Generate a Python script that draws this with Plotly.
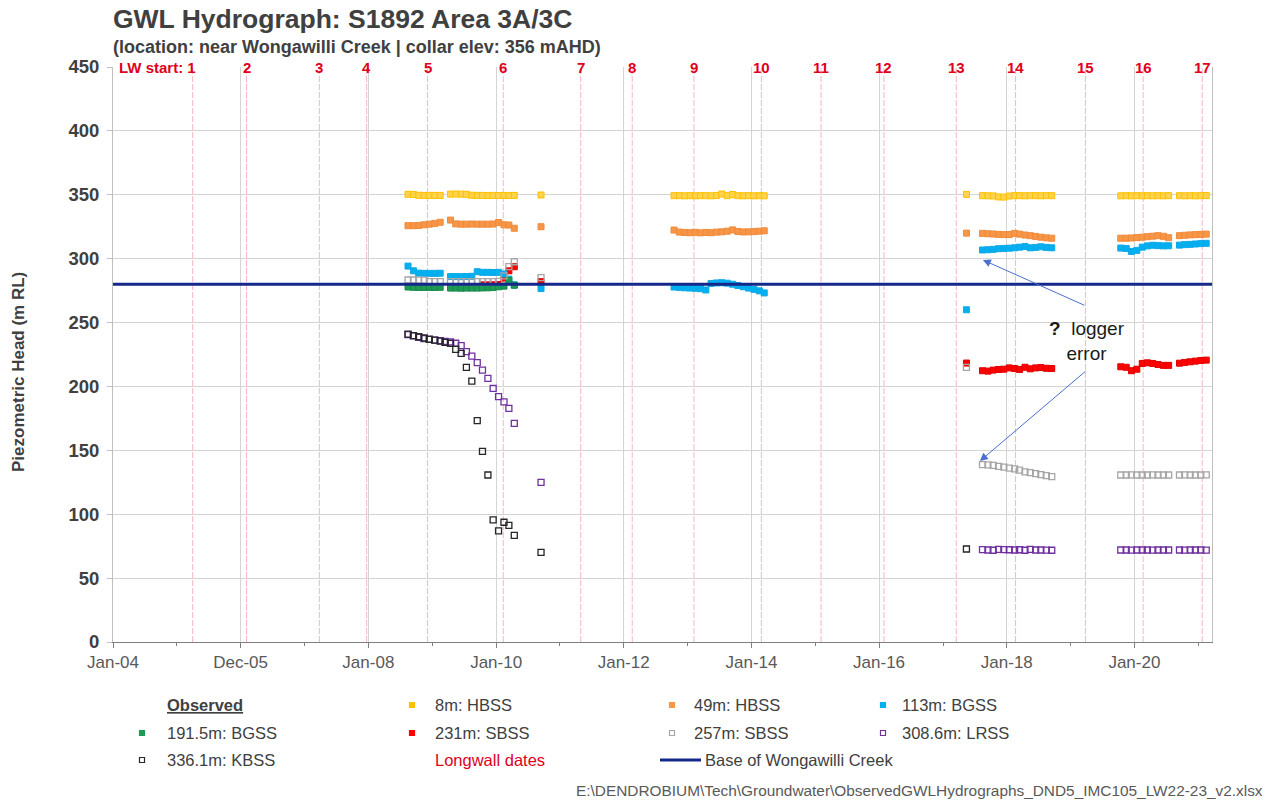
import plotly.graph_objects as go

# ---------------- dates (monthly readings) ----------------
D2008_SHALLOW = ["2008-08-15", "2008-09-15", "2008-10-15", "2008-11-15", "2008-12-15", "2009-01-15", "2009-02-15",
                 "2009-04-15", "2009-05-15", "2009-06-15", "2009-07-15", "2009-08-15", "2009-09-15", "2009-10-15",
                 "2009-11-15", "2009-12-15", "2010-01-15", "2010-02-15", "2010-03-15", "2010-04-15", "2010-09-15"]
D2008_DEEP = ["2008-08-15", "2008-09-15", "2008-10-15", "2008-11-15", "2008-12-15", "2009-01-15", "2009-02-15",
              "2009-03-15", "2009-04-15", "2009-05-15", "2009-06-15", "2009-07-15", "2009-08-15", "2009-09-15",
              "2009-10-15", "2009-11-15", "2009-12-15", "2010-01-15", "2010-02-15", "2010-03-15", "2010-04-15",
              "2010-09-15"]
D2008_GREEN = D2008_SHALLOW[:-1]
D2008_RED = ["2009-10-15", "2009-11-15", "2009-12-15", "2010-01-15", "2010-02-15", "2010-03-15", "2010-04-15",
             "2010-09-15"]
D2013 = ["2012-10-15", "2012-11-15", "2012-12-15", "2013-01-15", "2013-02-15", "2013-03-15", "2013-04-15",
         "2013-05-15", "2013-06-15", "2013-07-15", "2013-08-15", "2013-09-15", "2013-10-15", "2013-11-15",
         "2013-12-15", "2014-01-15", "2014-02-15", "2014-03-15"]
D2017_FIRST = ["2017-05-15"]
D2017 = ["2017-08-15", "2017-09-15", "2017-10-15", "2017-11-15", "2017-12-15", "2018-01-15", "2018-02-15",
         "2018-03-15", "2018-04-15", "2018-05-15", "2018-06-15", "2018-07-15", "2018-08-15", "2018-09-15"]
D2019 = ["2019-10-15", "2019-11-15", "2019-12-15", "2020-01-15", "2020-02-15", "2020-03-15", "2020-04-15",
         "2020-05-15", "2020-06-15", "2020-07-15"]
D2020 = ["2020-09-15", "2020-10-15", "2020-11-15", "2020-12-15", "2021-01-15", "2021-02-15"]

# ---------------- series values (m RL) ----------------
# 8m: HBSS
HBSS8_2008 = [350.4, 350.2, 349.6, 349.5, 349.5, 349.5, 349.5, 350.5, 350.6, 350.5, 350.4, 349.6, 349.5, 349.5,
              349.4, 349.5, 349.4, 349.5, 349.4, 349.5, 349.8]
HBSS8_2013 = [349.3, 349.3, 349.2, 349.3, 349.2, 349.3, 349.3, 349.2, 349.4, 350.6, 349.3, 350.2, 349.3, 349.2,
              349.3, 349.2, 349.3, 349.2]
HBSS8_2017_FIRST = [350.3]
HBSS8_2017 = [349.3, 349.2, 349.1, 348.3, 348.2, 349.0, 349.3, 349.3, 349.2, 349.3, 349.3, 349.2, 349.3, 349.3]
HBSS8_2019 = [349.2, 349.3, 349.2, 349.3, 349.2, 349.3, 349.2, 349.3, 349.2, 349.3]
HBSS8_2020 = [349.3, 349.2, 349.3, 349.2, 349.3, 349.4]

# 49m: HBSS
HBSS49_2008 = [325.8, 325.8, 326.0, 326.5, 327.0, 327.6, 328.5, 330.2, 327.2, 327.0, 327.0, 327.1, 327.0, 327.0,
               327.0, 327.1, 328.3, 326.5, 326.3, 323.8, 325.0]
HBSS49_2013 = [322.4, 320.8, 320.5, 320.3, 320.6, 320.2, 320.5, 320.3, 320.8, 321.0, 321.5, 322.5, 321.3, 320.9,
               321.0, 321.2, 321.5, 321.8]
HBSS49_2017_FIRST = [320.0]
HBSS49_2017 = [319.8, 319.5, 319.3, 319.0, 318.8, 318.9, 319.8, 319.2, 318.5, 318.0, 317.4, 316.8, 316.3, 316.0]
HBSS49_2019 = [316.0, 316.0, 316.2, 316.5, 316.8, 317.2, 317.6, 318.0, 317.5, 316.4]
HBSS49_2020 = [318.0, 318.3, 318.6, 318.8, 319.0, 319.2]

# 113m: BGSS
BGSS113_2008 = [294.2, 290.5, 288.7, 288.5, 288.5, 288.5, 288.6, 286.0, 286.0, 285.9, 286.0, 286.2, 289.8, 289.3,
                289.3, 289.2, 289.3, 288.0, 284.0, 279.5, 276.6]
BGSS113_2013 = [277.8, 277.5, 277.2, 277.0, 276.8, 276.5, 275.5, 280.6, 281.0, 281.2, 280.8, 280.0, 279.0, 278.0,
                277.0, 276.0, 274.8, 273.2]
BGSS113_2017_FIRST = [260.0]
BGSS113_2017 = [306.8, 307.0, 307.3, 307.8, 308.0, 308.2, 308.5, 309.0, 309.5, 308.5, 308.8, 309.3, 308.8, 308.5]
BGSS113_2019 = [308.3, 308.0, 305.6, 306.5, 309.0, 310.0, 310.5, 310.2, 310.0, 310.1]
BGSS113_2020 = [310.6, 311.0, 311.2, 311.5, 311.8, 312.0]

# 191.5m: BGSS
BGSS191_2008 = [277.8, 277.6, 277.5, 277.5, 277.5, 277.5, 277.6, 277.0, 277.0, 276.9, 277.0, 277.0, 277.0, 277.1,
                277.2, 277.5, 278.0, 278.5, 283.0, 279.2]

# 231m: SBSS
SBSS231_2008 = [279.5, 279.5, 279.6, 279.8, 284.8, 290.5, 293.7, 282.0]
SBSS231_2017_FIRST = [218.3]
SBSS231_2017 = [212.3, 212.0, 212.8, 213.3, 213.5, 214.5, 214.0, 213.3, 215.0, 213.8, 214.5, 214.8, 214.2, 214.0]
SBSS231_2019 = [215.4, 215.0, 212.3, 213.5, 218.0, 218.5, 218.0, 217.2, 216.5, 216.5]
SBSS231_2020 = [218.2, 218.8, 219.3, 219.8, 220.3, 220.6]

# 257m: SBSS
SBSS257_2008 = [283.3, 283.3, 283.2, 283.2, 282.0, 282.0, 282.0, 282.0, 282.0, 282.1, 282.0, 282.0, 282.0, 282.1,
                282.0, 282.0, 282.3, 286.5, 293.7, 297.6, 285.1]
SBSS257_2017_FIRST = [215.0]
SBSS257_2017 = [138.8, 138.6, 138.2, 137.5, 136.8, 136.0, 135.5, 134.5, 133.2, 132.5, 131.8, 131.0, 130.2, 129.4]
SBSS257_2019 = [130.7, 130.7, 130.8, 130.7, 130.7, 130.7, 130.8, 130.7, 130.7, 130.7]
SBSS257_2020 = [130.7, 130.8, 130.7, 130.7, 130.7, 130.8]

# 308.6m: LRSS
LRSS_2008 = [240.5, 239.5, 238.5, 237.5, 237.0, 236.3, 235.8, 235.2, 234.8, 233.8, 231.9, 227.2, 223.8, 218.6,
             212.8, 206.3, 198.5, 192.0, 188.0, 182.9, 171.1, 125.0]
LRSS_2017 = [72.3, 72.0, 71.8, 72.5, 72.3, 72.2, 72.0, 72.2, 71.8, 72.5, 72.0, 72.0, 71.9, 71.8]
LRSS_2019 = [72.0, 72.0, 71.9, 72.0, 72.0, 72.0, 71.9, 72.0, 72.0, 72.0]
LRSS_2020 = [72.0, 71.9, 72.0, 72.0, 72.0, 71.9]

# 336.1m: KBSS
KBSS_2008 = [241.0, 239.7, 238.9, 237.9, 236.8, 236.3, 235.5, 234.5, 233.7, 229.0, 225.9, 214.9, 204.2, 173.2,
             149.2, 130.7, 95.5, 86.9, 93.7, 91.3, 83.5, 70.2]
KBSS_2017_FIRST = [72.8]

CREEK_BASE = 280.0

# longwall start dates
LW_DATES = ["2005-04-01", "2006-02-03", "2007-03-27", "2007-12-22", "2008-12-05", "2010-02-11", "2011-04-30",
            "2012-02-19", "2013-02-06", "2014-02-27", "2015-02-03", "2016-01-29", "2017-03-18", "2018-02-20",
            "2019-03-27", "2020-02-20", "2021-01-23"]
LW_LABELS = [str(i) for i in range(1, 18)]

X_TICKVALS = ["2004-01-01", "2005-12-31", "2008-01-01", "2010-01-01", "2012-01-01", "2014-01-01", "2016-01-01",
              "2018-01-01", "2020-01-01"]
X_TICKTEXT = ["Jan-04", "Dec-05", "Jan-08", "Jan-10", "Jan-12", "Jan-14", "Jan-16", "Jan-18", "Jan-20"]
X_MINOR = ["2005-01-01", "2007-01-01", "2009-01-01", "2011-01-01", "2013-01-01", "2015-01-01", "2017-01-01",
           "2019-01-01", "2021-01-01"]
X_RANGE = ["2004-01-01", "2021-03-20"]
Y_TICKS = [0, 50, 100, 150, 200, 250, 300, 350, 400, 450]

# ---------------- figure ----------------
W, H = 1271, 803
ML, MT = 113, 67
MR = W - 1212
MB = H - 642
PW, PH = W - ML - MR, H - MT - MB


def px(x):
    """page pixel x -> paper fraction"""
    return (x - ML) / PW


def py(y):
    """page pixel y -> paper fraction"""
    return (H - MB - y) / PH


FONT = "Liberation Sans, Arial, sans-serif"
TXT = "#404040"

fig = go.Figure()


def add(name, x, y, symbol, fill, line, size=6, lw=1.0):
    fig.add_trace(go.Scatter(
        x=x, y=y, mode="markers", name=name, showlegend=False,
        marker=dict(symbol=symbol, size=size, color=fill, line=dict(color=line, width=lw)),
        hoverinfo="x+y+name"))


add("8m: HBSS", D2008_SHALLOW + D2013 + D2017_FIRST + D2017 + D2019 + D2020,
    HBSS8_2008 + HBSS8_2013 + HBSS8_2017_FIRST + HBSS8_2017 + HBSS8_2019 + HBSS8_2020,
    "square", "#FFD34D", "#FFC000")
add("49m: HBSS", D2008_SHALLOW + D2013 + D2017_FIRST + D2017 + D2019 + D2020,
    HBSS49_2008 + HBSS49_2013 + HBSS49_2017_FIRST + HBSS49_2017 + HBSS49_2019 + HBSS49_2020,
    "square", "#F79646", "#F08A3A")
add("231m: SBSS", D2008_RED + D2017_FIRST + D2017 + D2019 + D2020,
    SBSS231_2008 + SBSS231_2017_FIRST + SBSS231_2017 + SBSS231_2019 + SBSS231_2020,
    "square", "#FF0000", "#E00000")
add("113m: BGSS", D2008_SHALLOW + D2013 + D2017_FIRST + D2017 + D2019 + D2020,
    BGSS113_2008 + BGSS113_2013 + BGSS113_2017_FIRST + BGSS113_2017 + BGSS113_2019 + BGSS113_2020,
    "square", "#00B0F0", "#10A8E8")
add("191.5m: BGSS", D2008_GREEN, BGSS191_2008, "square", "#1E9A55", "#138A48")
add("257m: SBSS", D2008_SHALLOW + D2017_FIRST + D2017 + D2019 + D2020,
    SBSS257_2008 + SBSS257_2017_FIRST + SBSS257_2017 + SBSS257_2019 + SBSS257_2020,
    "square-open", "#A6A6A6", "#A6A6A6", 6, 1.3)
add("308.6m: LRSS", D2008_DEEP + D2017 + D2019 + D2020,
    LRSS_2008 + LRSS_2017 + LRSS_2019 + LRSS_2020,
    "square-open", "#7030A0", "#7030A0", 6, 1.3)
add("336.1m: KBSS", D2008_DEEP + D2017_FIRST, KBSS_2008 + KBSS_2017_FIRST,
    "square-open", "#262626", "#262626", 6, 1.3)

shapes = []
# longwall start lines
for d in LW_DATES:
    shapes.append(dict(type="line", xref="x", yref="paper", x0=d, x1=d, y0=0, y1=1,
                       line=dict(color="rgba(240,110,130,0.5)", width=1, dash="6px,2px"), layer="below"))
# base of creek
shapes.append(dict(type="line", xref="paper", yref="y", x0=0, x1=1, y0=CREEK_BASE, y1=CREEK_BASE,
                   line=dict(color="#14288C", width=3)))

annotations = []
# LW labels
for i, (d, lab) in enumerate(zip(LW_DATES, LW_LABELS)):
    if i == 0:
        annotations.append(dict(x=d, y=450, xref="x", yref="y", text="<b>LW start: " + lab + "</b>",
                                showarrow=False, xanchor="right", xshift=5, yanchor="middle",
                                font=dict(family=FONT, size=15, color="#E0001B")))
    else:
        annotations.append(dict(x=d, y=450, xref="x", yref="y", text="<b>" + lab + "</b>",
                                showarrow=False, xanchor="center", yanchor="middle",
                                font=dict(family=FONT, size=15, color="#E0001B")))

# titles
annotations.append(dict(x=px(111), y=py(19), xref="paper", yref="paper", xanchor="left", yanchor="middle",
                        text="<b>GWL Hydrograph: S1892 Area 3A/3C</b>", showarrow=False,
                        font=dict(family=FONT, size=26.5, color=TXT)))
annotations.append(dict(x=px(111), y=py(47), xref="paper", yref="paper", xanchor="left", yanchor="middle",
                        text="<b>(location: near Wongawilli Creek | collar elev: 356 mAHD)</b>", showarrow=False,
                        font=dict(family=FONT, size=18, color=TXT)))
annotations.append(dict(x=px(18), y=py(372), xref="paper", yref="paper", xanchor="center", yanchor="middle",
                        text="<b>Piezometric Head (m RL)</b>", textangle=-90, showarrow=False,
                        font=dict(family=FONT, size=17, color=TXT)))

# logger error note + arrows
annotations.append(dict(x=px(1087), y=py(341), xref="paper", yref="paper", xanchor="center", yanchor="middle",
                        text="<b>?</b>  logger<br>error", showarrow=False, align="center",
                        font=dict(family=FONT, size=19, color="#1A1A1A")))
annotations.append(dict(x="2017-08-17", y=299, xref="x", yref="y", text="", showarrow=True,
                        ax=103, ay=46, axref="pixel", ayref="pixel", arrowhead=2, arrowsize=1.6,
                        arrowwidth=1, arrowcolor="#4A6FD0"))
annotations.append(dict(x="2017-07-31", y=141.6, xref="x", yref="y", text="", showarrow=True,
                        ax=107, ay=-91, axref="pixel", ayref="pixel", arrowhead=2, arrowsize=1.6,
                        arrowwidth=1, arrowcolor="#4A6FD0"))

# footer
annotations.append(dict(x=px(1265), y=py(790), xref="paper", yref="paper", xanchor="right", yanchor="middle",
                        text="E:\\DENDROBIUM\\Tech\\Groundwater\\ObservedGWLHydrographs_DND5_IMC105_LW22-23_v2.xlsx",
                        showarrow=False, font=dict(family=FONT, size=15.4, color="#595959")))

# ---------------- manual legend ----------------
LEG_ROWS = [705, 733, 760]
LEG_ITEMS = [
    # (marker x, text x, row, text, symbol kind, fill, line)
    (None, 165, 0, "<b><u>Observed</u></b>", None, None, None),
    (412, 433, 0, "8m: HBSS", "fill", "#FFC000", "#FFC000"),
    (672, 692, 0, "49m: HBSS", "fill", "#F79646", "#F79646"),
    (883, 900, 0, "113m: BGSS", "fill", "#00B0F0", "#00B0F0"),
    (142, 165, 1, "191.5m: BGSS", "fill", "#1E9A55", "#1E9A55"),
    (412, 433, 1, "231m: SBSS", "fill", "#FF0000", "#FF0000"),
    (672, 692, 1, "257m: SBSS", "open", None, "#A6A6A6"),
    (883, 900, 1, "308.6m: LRSS", "open", None, "#7030A0"),
    (142, 165, 2, "336.1m: KBSS", "open", None, "#262626"),
    (None, 433, 2, "<span style='color:#E0001B'>Longwall dates</span>", None, None, None),
]
for mx, tx, r, text, kind, fill, line in LEG_ITEMS:
    yy = LEG_ROWS[r]
    annotations.append(dict(x=px(tx), y=py(yy), xref="paper", yref="paper", xanchor="left", yanchor="middle",
                            text=text, showarrow=False, font=dict(family=FONT, size=16.5, color=TXT)))
    if mx is not None:
        shapes.append(dict(type="rect", xref="paper", yref="paper", xsizemode="pixel", ysizemode="pixel",
                           xanchor=px(mx), yanchor=py(yy), x0=-2.5, x1=2.5, y0=-2.5, y1=2.5,
                           fillcolor=fill if kind == "fill" else "rgba(0,0,0,0)",
                           line=dict(color=line, width=1.2)))
# creek legend entry
shapes.append(dict(type="line", xref="paper", yref="paper", x0=px(660), x1=px(701), y0=py(760), y1=py(760),
                   line=dict(color="#14288C", width=3)))
annotations.append(dict(x=px(703), y=py(760), xref="paper", yref="paper", xanchor="left", yanchor="middle",
                        text="Base of Wongawilli Creek", showarrow=False,
                        font=dict(family=FONT, size=16.5, color=TXT)))

fig.update_layout(
    width=W, height=H, autosize=False,
    margin=dict(l=ML, r=MR, t=MT, b=MB),
    paper_bgcolor="white", plot_bgcolor="white",
    showlegend=False,
    shapes=shapes, annotations=annotations,
    font=dict(family=FONT, color=TXT),
    xaxis=dict(type="date", range=X_RANGE, tickvals=X_TICKVALS, ticktext=X_TICKTEXT,
               showgrid=True, gridcolor="#D4D4D4", gridwidth=1,
               showline=True, linecolor="#7F7F7F", linewidth=1,
               ticks="outside", ticklen=5, tickcolor="#7F7F7F",
               minor=dict(tickvals=X_MINOR, ticks="outside", ticklen=3, tickcolor="#7F7F7F", showgrid=False),
               tickfont=dict(family=FONT, size=17, color="#595959"), zeroline=False),
    yaxis=dict(range=[0, 450], tickvals=Y_TICKS, showgrid=True, gridcolor="#D4D4D4", gridwidth=1,
               showline=True, linecolor="#C0C0C0", linewidth=1, mirror=True,
               ticks="outside", ticklen=5, tickcolor="#BFBFBF", ticklabelstandoff=4,
               tickfont=dict(family=FONT, size=18.5, color=TXT), zeroline=False),
)
# bold y tick labels
fig.update_yaxes(ticktext=["<b>%d</b>" % v for v in Y_TICKS])

# remove the default 8px page margin so the figure fills the 1271x803 window; hide the mode bar
fig.write_html("out.html", config={"displayModeBar": False},
               post_script="document.body.style.margin='0px';")
